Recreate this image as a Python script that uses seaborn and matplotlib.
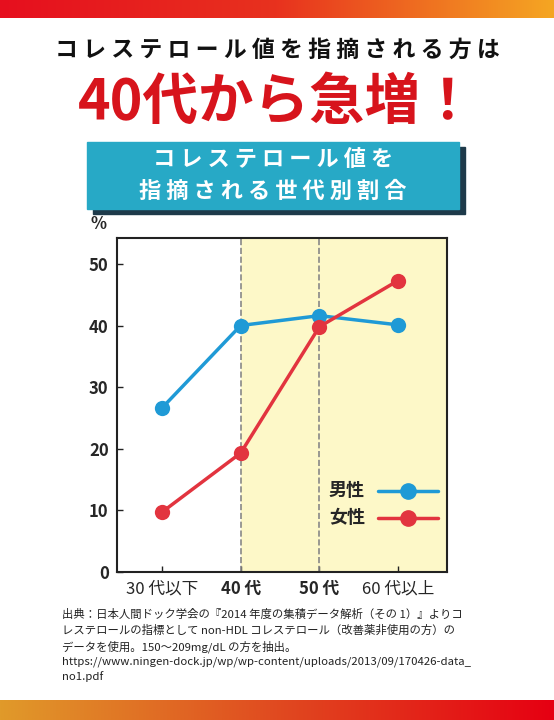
import numpy as np
import pandas as pd
import seaborn as sns
import matplotlib.pyplot as plt
from matplotlib.patches import Rectangle
from matplotlib.colors import LinearSegmentedColormap

sns.set_theme(style="white")
plt.rcParams['font.family'] = ['Noto Sans CJK JP', 'DejaVu Sans']

categories = ["30 代以下", "40 代", "50 代", "60 代以上"]
male = [26.6, 40.0, 41.6, 40.1]
female = [9.7, 19.3, 39.8, 47.3]
yticks = [0, 10, 20, 30, 40, 50]

W, H = 554, 720
fig = plt.figure(figsize=(W/100, H/100), dpi=100)

def fx(px): return px / W
def fy(py): return 1 - py / H

grad = np.linspace(0, 1, 256).reshape(1, -1)
cm_top = LinearSegmentedColormap.from_list("t", ["#e60f1e", "#e8321e", "#f5a623"])
cm_bot = LinearSegmentedColormap.from_list("b", ["#e09a2a", "#e04a20", "#e60012"])
axt = fig.add_axes([0, fy(18), 1, 18/H]); axt.imshow(grad, aspect='auto', cmap=cm_top); axt.axis('off')
axb = fig.add_axes([0, 0, 1, 20/H]); axb.imshow(grad, aspect='auto', cmap=cm_bot); axb.axis('off')

def spaced(s): return " ".join(s)

fig.text(0.5, fy(50), spaced("コレステロール値を指摘される方は"), ha='center', va='center',
         fontsize=16.5, fontweight='bold', color='#111111')
fig.text(0.5, fy(103), "40代から急増！", ha='center', va='center',
         fontsize=40, fontweight='bold', color='#d7141c')

fig.patches.append(Rectangle((fx(93), fy(214)), 372/W, 67/H, transform=fig.transFigure,
                             color='#1e3a4a', zorder=1))
fig.patches.append(Rectangle((fx(87), fy(209)), 372/W, 67/H, transform=fig.transFigure,
                             color='#27a9c6', zorder=2))
fig.text(fx(273), fy(160), spaced("コレステロール値を"), ha='center', va='center', fontsize=16,
         fontweight='bold', color='white', zorder=3)
fig.text(fx(273), fy(191), spaced("指摘される世代別割合"), ha='center', va='center', fontsize=16,
         fontweight='bold', color='white', zorder=3)

ax = fig.add_axes([fx(117), fy(572), (447-117)/W, (572-238)/H])
x = np.arange(len(categories))
ax.axvspan(1, 3.62, color='#fdf8c8', zorder=0)
for xv in [1, 2]:
    ax.axvline(xv, color='#888888', ls='--', lw=1.2, zorder=1)
df = pd.DataFrame({"x": np.concatenate([x, x]), "v": male + female,
                   "g": ["男性"]*4 + ["女性"]*4})
sns.lineplot(data=df, x="x", y="v", hue="g", palette={"男性": "#1f9ad6", "女性": "#e2343f"},
             marker='o', markersize=11, markeredgewidth=0, linewidth=2.5, ax=ax, legend=False,
             zorder=3)
ax.set_xlim(-0.57, 3.62)
ax.set_ylim(0, 54.2)
ax.set_yticks(yticks)
ax.set_yticklabels([str(v) for v in yticks], fontsize=12, fontweight='bold')
ax.set_xticks(x)
ax.set_xticklabels(categories, fontsize=12)
for i, t in enumerate(ax.get_xticklabels()):
    if i in (1, 2):
        t.set_fontweight('bold')
ax.set_xlabel(""); ax.set_ylabel("")
ax.tick_params(axis='both', length=4, width=1, color='#222222', direction='in', pad=6)
ax.tick_params(axis='y', left=True)
ax.tick_params(axis='x', bottom=True)
for s in ax.spines.values():
    s.set_color('#222222'); s.set_linewidth(1.5)
ax.text(-0.8, 55.0, "%", fontsize=12, fontweight='bold', ha='center', va='bottom')

for yy, lab, col in [(13.2, "男性", "#1f9ad6"), (8.8, "女性", "#e2343f")]:
    ax.text(2.35, yy, lab, fontsize=13, fontweight='bold', ha='center', va='center')
    ax.plot([2.75, 3.5], [yy, yy], color=col, lw=2.5, zorder=4)
    ax.plot([3.12], [yy], 'o', color=col, markersize=11, zorder=5)

note = ("出典：日本人間ドック学会の『2014 年度の集積データ解析（その 1）』よりコ\n"
        "レステロールの指標として non-HDL コレステロール（改善薬非使用の方）の\n"
        "データを使用。150～209mg/dL の方を抽出。\n"
        "https://www.ningen-dock.jp/wp/wp-content/uploads/2013/09/170426-data_\n"
        "no1.pdf")
fig.text(fx(62), fy(609), note, ha='left', va='top', fontsize=8.2, color='#222222',
         linespacing=1.45)

fig.savefig("out.png", dpi=100)
